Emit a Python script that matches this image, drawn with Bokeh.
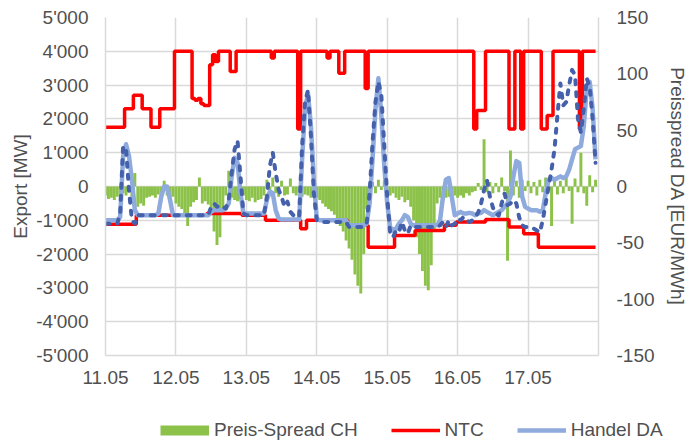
from bokeh.plotting import figure
from bokeh.layouts import column
from bokeh.models import Range1d, LinearAxis, FixedTicker, Legend, LegendItem, ColumnDataSource
from bokeh.embed import file_html
from bokeh.resources import INLINE

# ---------------- data (hourly, 11.05 00:00 .. 17.05 23:00) ----------------
hours = list(range(168))

day_ticks = [0, 24, 48, 72, 96, 120, 144]
day_labels = ["11.05", "12.05", "13.05", "14.05", "15.05", "16.05", "17.05"]
day_grid = [0, 24, 48, 72, 96, 120, 144, 168]

mw_ticks = [-5000, -4000, -3000, -2000, -1000, 0, 1000, 2000, 3000, 4000, 5000]
mw_labels = ["-5'000", "-4'000", "-3'000", "-2'000", "-1'000", "0",
             "1'000", "2'000", "3'000", "4'000", "5'000"]
eur_ticks = [-150, -100, -50, 0, 50, 100, 150]
eur_labels = ["-150", "-100", "-50", "0", "50", "100", "150"]

# Preis-Spread CH [EUR/MWh]
spread = [
    -8, -11, -10, -12, -9, -7, -6, -8, -5, -14, 12, -18, -15, -17, -10, -9, -8, -10, -7, -9, 5, -8, -10, -9,
    -15, -18, -20, -24, -35, -18, -14, -12, 8, -15, -13, -16, -25, -40, -52, -45, -25, -8, 14, -10, -12, -13, -10, -8,
    -12, -13, -10, -14, -12, -11, -8, 6, -7, 8, -6, -9, 5, -8, -7, 7, -6, -8, -5, -9, -7, -8, -10, -9,
    -10, -12, -15, -18, -20, -22, -25, -28, -35, -40, -48, -55, -65, -78, -88, -95, -60, -20, -5, 4, -6, 6, -3, 5,
    -4, -8, -6, -10, -12, -9, -14, -12, -18, -30, -45, -60, -75, -88, -92, -70, -40, -15, -10, -12, -10, -9, -11, -8,
    -10, -8, -10, -6, -8, -5, -4, 3, -3, 42, -5, 4, -6, 3, -5, 8, -4, -66, 32, -8, 5, -10, 6, -4,
    5, -6, 4, -8, 6, -5, 8, -4, -35, 6, -7, 5, -6, 8, -4, -33, 7, -5, 30, -6, -17, 10, -5, 6,
]

# NTC export [MW]
ntc_export = [
    1750, 1750, 1750, 1750, 1750, 1750, 1750, 2300, 2300, 2300, 2700, 2700, 2700, 2300, 2300, 2300, 1750, 1750, 1750, 2300, 2300, 2300, 2300, 2300,
    4000, 4000, 4000, 4000, 4000, 4000, 2600, 2550, 2600, 2450, 2400, 2400, 3600, 3900, 3700, 4000, 4000, 4000, 4000, 3400, 3400, 4000, 4000, 4000,
    4000, 4000, 4000, 4000, 4000, 4000, 4000, 4000, 4000, 3800, 4000, 4000, 4000, 4000, 4000, 4000, 4000, 4000, 1700, 4000, 4000, 4000, 4000, 4000,
    4000, 4000, 4000, 4000, 3800, 4000, 4000, 4000, 3350, 3350, 4000, 4000, 4000, 4000, 4000, 4000, 4000, 2900, 4000, 4000, 4000, 4000, 4000, 4000,
    4000, 4000, 4000, 4000, 4000, 4000, 4000, 4000, 4000, 4000, 4000, 4000, 4000, 4000, 4000, 4000, 4000, 4000, 4000, 4000, 4000, 4000, 4000, 4000,
    4000, 4000, 4000, 4000, 4000, 4000, 1700, 2250, 2250, 2250, 4000, 4000, 4000, 4000, 4000, 4000, 4000, 4000, 1700, 1700, 4000, 4000, 1700, 4000,
    4000, 4000, 4000, 4000, 4000, 1700, 1700, 2100, 2100, 4000, 4000, 4000, 4000, 4000, 4000, 4000, 4000, 4000, 1700, 4000, 4000, 4000, 4000, 4000,
]

# NTC import [MW]
ntc_import = [
    -1120, -1120, -1120, -1120, -1120, -1120, -1120, -1120, -1120, -1120, -1120, -850, -850, -850, -850, -850, -850, -850, -850, -850, -850, -850, -850, -850,
    -850, -850, -850, -850, -850, -850, -850, -850, -850, -850, -850, -800, -800, -800, -800, -800, -800, -800, -800, -800, -800, -800, -800, -850,
    -850, -850, -850, -850, -850, -850, -850, -1000, -1000, -1000, -1000, -1000, -1000, -1000, -1000, -1000, -1000, -1000, -1000, -1250, -1250, -1000, -1000, -1000,
    -1000, -1000, -1000, -1000, -1000, -1000, -1000, -1000, -1000, -1000, -1000, -1150, -1150, -1150, -1150, -1150, -1150, -1150, -1800, -1800, -1800, -1800, -1800, -1800,
    -1800, -1800, -1800, -1450, -1450, -1450, -1450, -1450, -1450, -1450, -1300, -1300, -1300, -1300, -1300, -1300, -1300, -1300, -1300, -1300, -1150, -1150, -1150, -1150,
    -1050, -1050, -1050, -1050, -1050, -1050, -1050, -1050, -1050, -1050, -980, -980, -980, -980, -980, -980, -980, -980, -1200, -1200, -1200, -1200, -1200, -1400,
    -1400, -1400, -1400, -1400, -1800, -1800, -1800, -1800, -1800, -1800, -1800, -1800, -1800, -1800, -1800, -1800, -1800, -1800, -1800, -1800, -1800, -1800, -1800, -1800,
]

# Handel DA [MW]
handel_da = [
    -1000, -1000, -1000, -1000, -1000, -900, 900, 1250, 900, 200, -700, -850, -850, -850, -850, -850, -850, -850, -800, -300, 0, 0, -400, -850,
    -850, -850, -850, -850, -850, -850, -850, -850, -850, -850, -850, -850, -750, -700, -700, -700, -700, -650, -500, 300, 850, 700, -200, -800,
    -800, -800, -800, -800, -800, -800, -800, -400, -150, -200, -700, -950, -980, -980, -980, -980, -980, -980, -980, 800, 2300, 2750, 1800, 200,
    -950, -1000, -1000, -1000, -1000, -1000, -1000, -1000, -1000, -1000, -1000, -1150, -1150, -1150, -1150, -1150, -1150, -1100, -500, 800, 2300, 3200, 2100, 600,
    -500, -1200, -1300, -1250, -1100, -1000, -850, -900, -1100, -1150, -1150, -1150, -1150, -1150, -1150, -1150, -1150, -1150, -1000, -300, 200, 250, -300, -850,
    -800, -750, -800, -800, -780, -800, -850, -800, -780, -700, -750, -800, -850, -800, -750, -700, -600, -500, -300, 300, 750, 700, -300, -600,
    -650, -700, -700, -700, -750, -700, -200, 200, 250, 200, 250, 300, 250, 300, 500, 800, 1100, 1150, 1200, 1800, 2900, 3100, 2300, 800,
]

# second trade series (dashed, dark blue)
handel_2 = [
    -1100, -1100, -1100, -1100, -1100, -800, 1200, 1100, -100, -1000, -1100, -850, -850, -850, -850, -850, -850, -850, -850, -850, -850, -850, -850, -850,
    -850, -850, -850, -850, -850, -850, -850, -850, -850, -850, -850, -850, -600, -500, -600, -550, -600, -650, -400, 400, 1100, 1350, 300, -800,
    -850, -850, -850, -850, -850, -850, -850, -300, 600, 1000, 400, -100, -300, -600, -450, -750, -850, -900, -900, 1200, 2500, 2850, 1500, -200,
    -1000, -1050, -1050, -1050, -1050, -1050, -1050, -1050, -1050, -1050, -1050, -1200, -1200, -1200, -1200, -1200, -1200, -1100, -200, 1300, 2500, 3100, 2700, 1200,
    -300, -1400, -1500, -1300, -1350, -1050, -1300, -1400, -1150, -1200, -1200, -1200, -1200, -1200, -1200, -1200, -1200, -1200, -1150, -1050, -1200, -1000, -1150, -1100,
    -950, -1000, -900, -1000, -1050, -1000, -900, -770, -500, -100, 180, -300, -620, -800, -860, -500, -210, -550, -500, -400, -500, -920, -1150, -1200,
    -1200, -1200, -1250, -1300, -1360, -1000, -500, 0, 500, 1100, 2100, 3050, 2400, 2500, 3000, 3450, 3300, 2000, 1600, 2300, 3200, 2950, 2000, 700,
]

legend_labels = ["Preis-Spread CH", "NTC", "Handel DA"]

# ---------------- styling ----------------
GREEN = "#8CC24A"
RED = "#FF0000"
LIGHT = "#8FAADC"
DARK = "#4661AC"
GRID = "#D9D9D9"
TXT = "#505050"
FONT = "Liberation Sans"
FS = "19px"

src = ColumnDataSource(dict(h=hours, spread=spread, exp=ntc_export, imp=ntc_import,
                            da=handel_da, h2=handel_2))

p = figure(width=690, height=400, output_backend="svg", toolbar_location=None,
           x_range=Range1d(0, 168), y_range=Range1d(-5000, 5000),
           min_border_left=105, min_border_right=90, min_border_top=17, min_border_bottom=45)
p.extra_y_ranges = {"eur": Range1d(-150, 150)}
p.outline_line_color = None
p.background_fill_color = "white"
p.border_fill_color = "white"

bars = p.vbar(x="h", top="spread", bottom=0, width=1.0, source=src, y_range_name="eur",
              fill_color=GREEN, line_color=None)
r_exp = p.step(x="h", y="exp", mode="center", source=src, line_color=RED, line_width=3.5)
r_imp = p.step(x="h", y="imp", mode="center", source=src, line_color=RED, line_width=3.5)
r_da = p.line(x="h", y="da", source=src, line_color=LIGHT, line_width=4.5, line_join="round")
r_h2 = p.line(x="h", y="h2", source=src, line_color=DARK, line_width=4, line_dash="4 8",
              line_cap="round", line_join="round")

# axes
xa = p.xaxis[0]
xa.ticker = FixedTicker(ticks=day_ticks)
xa.major_label_overrides = dict(zip(day_ticks, day_labels))
ya = p.yaxis[0]
ya.ticker = FixedTicker(ticks=mw_ticks)
ya.major_label_overrides = dict(zip(mw_ticks, mw_labels))
ya.axis_label = "Export [MW]"
ya.major_label_standoff = 17
ya.axis_label_standoff = 2
xa.major_label_standoff = 15

ra = LinearAxis(y_range_name="eur", ticker=FixedTicker(ticks=eur_ticks),
                major_label_overrides=dict(zip(eur_ticks, eur_labels)),
                axis_label="Preisspread DA [EUR/MWh]")
ra.major_label_standoff = 18
ra.axis_label_standoff = 9
p.add_layout(ra, "right")

for ax in [xa, ya, ra]:
    ax.axis_line_color = GRID
    ax.axis_line_width = 1.5
    ax.major_tick_line_color = None
    ax.minor_tick_line_color = None
    ax.major_tick_out = 0
    ax.major_tick_in = 0
    ax.minor_tick_out = 0
    ax.minor_tick_in = 0
    ax.major_label_text_font = FONT
    ax.major_label_text_font_size = FS
    ax.major_label_text_color = TXT
    ax.axis_label_text_font = FONT
    ax.axis_label_text_font_size = FS
    ax.axis_label_text_color = TXT
    ax.axis_label_text_font_style = "normal"

p.xgrid.ticker = FixedTicker(ticks=day_grid)
p.ygrid.ticker = FixedTicker(ticks=mw_ticks)
for g in [p.xgrid[0], p.ygrid[0]]:
    g.grid_line_color = GRID
    g.grid_line_width = 1.5

# ---------------- legend strip ----------------
lf = figure(width=690, height=45, output_backend="svg", toolbar_location=None,
            x_range=Range1d(0, 1), y_range=Range1d(0, 1), min_border=0,
            x_axis_type=None, y_axis_type=None)
lf.outline_line_color = None
lf.background_fill_color = "white"
lf.border_fill_color = "white"
for fig in (p, lf):
    try:
        fig.frame_align = False
    except Exception:
        pass
nan2 = [float("nan"), float("nan")]
sw_green = lf.line(x=[0, 1], y=nan2, line_color=GREEN, line_width=10)
sw_red = lf.line(x=[0, 1], y=nan2, line_color=RED, line_width=3.5)
sw_blue = lf.line(x=[0, 1], y=nan2, line_color=LIGHT, line_width=4.5)

legend = Legend(items=[LegendItem(label=legend_labels[0], renderers=[sw_green]),
                       LegendItem(label=legend_labels[1], renderers=[sw_red]),
                       LegendItem(label=legend_labels[2], renderers=[sw_blue])],
                location=(160, 4), orientation="horizontal",
                glyph_width=49, glyph_height=22, label_height=22, label_standoff=5, spacing=33,
                padding=0, margin=0, border_line_color=None, background_fill_alpha=0,
                label_text_font=FONT, label_text_font_size=FS, label_text_color=TXT)
lf.add_layout(legend)

layout = column(p, lf, spacing=0)
open("out.html", "w").write(file_html(layout, INLINE))
